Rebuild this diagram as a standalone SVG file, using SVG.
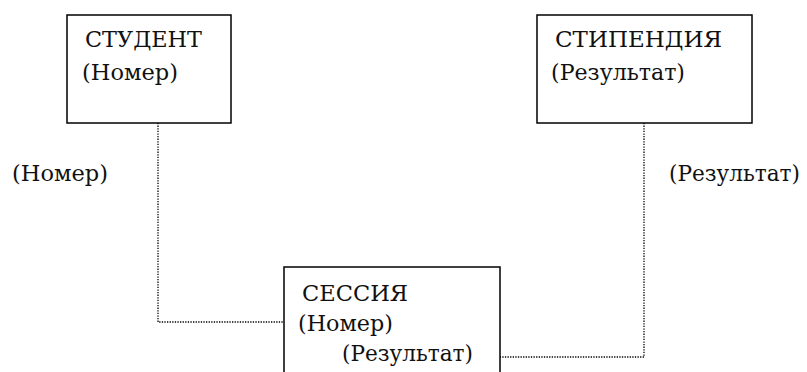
<svg xmlns="http://www.w3.org/2000/svg" width="807" height="372" viewBox="0 0 807 372">
<style>
.box{fill:#fff;stroke:#000;stroke-width:1.5}
.t{font-family:"DejaVu Serif","Liberation Serif",serif;font-size:23px;fill:#111}
.c{fill:none;stroke:#000;stroke-width:1.3;stroke-dasharray:1.3 1.3}
</style>
<rect width="807" height="372" fill="#fff"/>
<g id="connectors">
<polyline class="c" points="158,123 158,322 284,322"/>
<polyline class="c" points="644,123 644,357 500,357"/>
<text class="t" x="12" y="181" textLength="96" lengthAdjust="spacingAndGlyphs">(Номер)</text>
<text class="t" x="669" y="181" font-size="21.5" textLength="131" lengthAdjust="spacingAndGlyphs">(Результат)</text>
</g>
<g id="student">
<rect class="box" x="67" y="15" width="164" height="108"/>
<text class="t" x="85" y="47" textLength="117" lengthAdjust="spacingAndGlyphs">СТУДЕНТ</text>
<text class="t" x="82" y="80" textLength="96" lengthAdjust="spacingAndGlyphs">(Номер)</text>
</g>
<g id="stipendia">
<rect class="box" x="537" y="15" width="215" height="108"/>
<text class="t" x="555" y="47" textLength="167" lengthAdjust="spacingAndGlyphs">СТИПЕНДИЯ</text>
<text class="t" x="551" y="80" textLength="134" lengthAdjust="spacingAndGlyphs">(Результат)</text>
</g>
<g id="sessia">
<rect class="box" x="284" y="267" width="216" height="120"/>
<text class="t" x="302" y="301" textLength="106" lengthAdjust="spacingAndGlyphs">СЕССИЯ</text>
<text class="t" x="298" y="331" textLength="95" lengthAdjust="spacingAndGlyphs">(Номер)</text>
<text class="t" x="342" y="361" textLength="131" lengthAdjust="spacingAndGlyphs">(Результат)</text>
</g>
</svg>
